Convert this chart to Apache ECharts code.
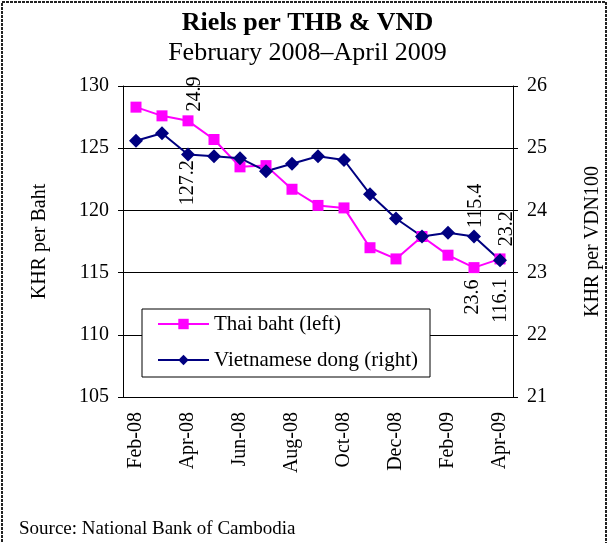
<!DOCTYPE html>
<html>
<head>
<meta charset="utf-8">
<script src="https://cdn.jsdelivr.net/npm/echarts@6/dist/echarts.min.js"></script>
<style>
  html, body { margin: 0; padding: 0; background: #fff; }
  #chart { width: 615px; height: 543px; }
</style>
</head>
<body>
<div id="chart"></div>
<script>
// data
const months = ["Feb-08", "Mar-08", "Apr-08", "May-08", "Jun-08", "Jul-08", "Aug-08", "Sep-08",
  "Oct-08", "Nov-08", "Dec-08", "Jan-09", "Feb-09", "Mar-09", "Apr-09"];
const thaiBaht = [128.3, 127.6, 127.2, 125.7, 123.5, 123.6, 121.7, 120.4, 120.2, 117.0, 116.1, 117.9, 116.4, 115.4, 116.1];
const vietDong = [25.12, 25.24, 24.9, 24.87, 24.84, 24.63, 24.75, 24.87, 24.81, 24.26, 23.87, 23.58, 23.64, 23.58, 23.2];
const leftAxis = [105, 130, 5];
const rightAxis = [21, 26, 1];
// which points carry a value label
const thaiLabelled = [2, 13, 14];
const dongLabelled = [2, 13, 14];

const font = "Liberation Serif";

// label placement per point (rotated, Excel style)
// offset is in the rotated text frame, so [0, dx] moves it sideways on screen
const thaiLabelPos = {
  2: { pos: "bottom", dist: 34, dx: 0 },
  13: { pos: "top", dist: 34, dx: 2 },
  14: { pos: "bottom", dist: 14, dx: 1 },
};
const dongLabelPos = {
  2: { pos: "top", dist: 36, dx: 7 },
  13: { pos: "bottom", dist: 36, dx: -1 },
  14: { pos: "top", dist: 7, dx: 7 },
};

function makeData(values, labelled, place) {
  return values.map((v, i) => {
    if (labelled.indexOf(i) < 0) return v;
    let p = place[i];
    return {
      value: v,
      label: {
        show: true,
        position: p.pos,
        distance: p.dist,
        rotate: 90,
        align: p.pos === "top" ? "left" : "right",
        verticalAlign: "middle",
        offset: [0, p.dx],
        formatter: (params) => params.value.toFixed(1),
        fontFamily: font,
        fontSize: 20,
        color: "#000",
      },
    };
  });
}

let myChart = echarts.init(document.getElementById("chart"));
let option = {
  animation: false,
  backgroundColor: "#fff",
  title: [
    {
      text: "Riels per THB & VND",
      left: "center",
      top: 5,
      textStyle: { fontFamily: font, fontSize: 26, fontWeight: "bold", color: "#000" },
    },
    {
      text: "February 2008\u2013April 2009",
      left: "center",
      top: 35,
      textStyle: { fontFamily: font, fontSize: 26, fontWeight: "normal", color: "#000" },
    },
    {
      text: "Source: National Bank of Cambodia",
      left: 14,
      top: 515,
      textStyle: { fontFamily: font, fontSize: 19, fontWeight: "normal", color: "#000" },
    },
  ],
  graphic: [
    {
      type: "rect",
      shape: { x: 2, y: 2, width: 604, height: 580 },
      style: { fill: "none", stroke: "#222", lineWidth: 2, lineDash: [3, 1] },
      silent: true,
    },
  ],
  legend: {
    orient: "vertical",
    left: 142,
    top: 309,
    padding: [4, 12, 6, 15],
    itemGap: 14,
    itemWidth: 51,
    itemHeight: 13,
    backgroundColor: "#fff",
    borderColor: "#000",
    borderWidth: 1,
    textStyle: { fontFamily: font, fontSize: 21, color: "#000", lineHeight: 22 },
    data: ["Thai baht (left)", "Vietnamese dong (right)"],
  },
  grid: { left: 123, right: 102, top: 86, bottom: 146 },
  xAxis: {
    type: "category",
    data: months,
    boundaryGap: true,
    axisLine: { lineStyle: { color: "#000", width: 1 } },
    axisTick: { interval: 1, length: 6, lineStyle: { color: "#000" } },
    axisLabel: {
      interval: 1,
      rotate: 90,
      margin: 15,
      fontFamily: font,
      fontSize: 20,
      color: "#000",
    },
  },
  yAxis: [
    {
      type: "value",
      min: leftAxis[0],
      max: leftAxis[1],
      interval: leftAxis[2],
      name: "KHR per Baht",
      nameLocation: "middle",
      nameRotate: 90,
      nameGap: 73,
      nameTextStyle: { fontFamily: font, fontSize: 20, color: "#000" },
      axisLine: { show: true, lineStyle: { color: "#000" } },
      axisTick: { show: true, length: 5, lineStyle: { color: "#000" } },
      axisLabel: { margin: 14, fontFamily: font, fontSize: 20, color: "#000" },
      splitLine: { show: true, lineStyle: { color: "#000", width: 1 } },
    },
    {
      type: "value",
      min: rightAxis[0],
      max: rightAxis[1],
      interval: rightAxis[2],
      position: "right",
      name: "KHR per VDN100",
      nameLocation: "middle",
      nameRotate: 90,
      nameGap: 70,
      nameTextStyle: { fontFamily: font, fontSize: 20, color: "#000" },
      axisLine: { show: true, lineStyle: { color: "#000" } },
      axisTick: { show: true, length: 5, lineStyle: { color: "#000" } },
      axisLabel: { margin: 14, fontFamily: font, fontSize: 20, color: "#000" },
      splitLine: { show: false },
    },
  ],
  series: [
    {
      name: "Thai baht (left)",
      type: "line",
      yAxisIndex: 0,
      data: makeData(thaiBaht, thaiLabelled, thaiLabelPos),
      symbol: "rect",
      symbolSize: 11,
      lineStyle: { color: "#FF00FF", width: 2 },
      itemStyle: { color: "#FF00FF" },
    },
    {
      name: "Vietnamese dong (right)",
      type: "line",
      yAxisIndex: 1,
      data: makeData(vietDong, dongLabelled, dongLabelPos),
      symbol: "diamond",
      symbolSize: 14,
      lineStyle: { color: "#000080", width: 2 },
      itemStyle: { color: "#000080" },
    },
  ],
};
myChart.setOption(option);
</script>
</body>
</html>
